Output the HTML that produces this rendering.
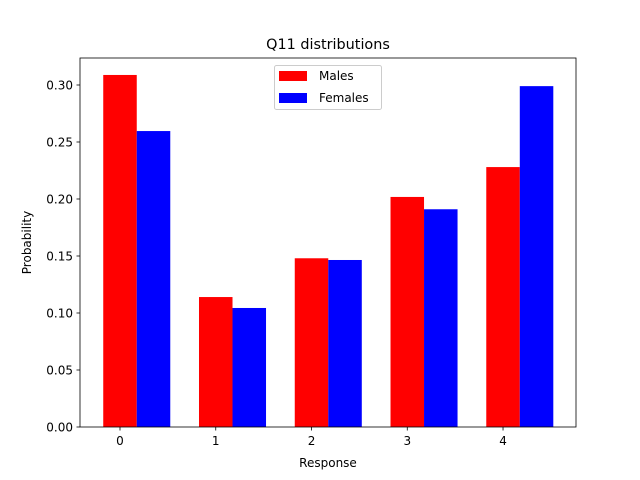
<!DOCTYPE html>
<html><head><meta charset="utf-8"><style>
body{margin:0;background:#fff}
svg{display:block;font-family:"DejaVu Sans","Liberation Sans",sans-serif}
</style></head><body>
<svg id="chart" width="640" height="480" viewBox="0 0 640 480">
<rect width="640" height="480" fill="#fff"/>
<text x="328" y="49" font-size="14.4" text-anchor="middle">Q11 distributions</text>
<g id="bars"></g>
<g id="axes"></g>
<rect x="80" y="58" width="496" height="369" fill="none" stroke="#000" stroke-width="0.8"/>
<text x="328" y="467" font-size="12" text-anchor="middle">Response</text>
<text transform="translate(31,242.5) rotate(-90)" font-size="12" text-anchor="middle">Probability</text>
<g>
<rect x="274.5" y="65.5" width="107" height="44" rx="2" fill="#fff" stroke="#ccc" stroke-width="1"/>
<rect x="279" y="71" width="28" height="10" fill="#ff0000"/>
<text x="319" y="80" font-size="12">Males</text>
<rect x="279" y="93" width="28" height="10" fill="#0000ff"/>
<text x="319" y="102" font-size="12">Females</text>
</g>
</svg>
<script>
const categories = [0, 1, 2, 3, 4];
const males = [0.3088, 0.114, 0.148, 0.2018, 0.228];
const females = [0.2596, 0.1044, 0.1465, 0.191, 0.299];
const yTicks = [0.00, 0.05, 0.10, 0.15, 0.20, 0.25, 0.30];
const yTickLabels = ["0.00","0.05","0.10","0.15","0.20","0.25","0.30"];

const NS = "http://www.w3.org/2000/svg";
const xMin = -0.4177, xMax = 4.762, yMin = 0, yMax = 0.32368;
function xs(v){ return 80 + (v - xMin) / (xMax - xMin) * 496; }
function ys(v){ return 427 - (v - yMin) / (yMax - yMin) * 369; }
const w = 0.35;
const bars = document.getElementById('bars');
const axes = document.getElementById('axes');
function mk(tag, attrs){ const e = document.createElementNS(NS, tag); for (const k in attrs) e.setAttribute(k, attrs[k]); return e; }

categories.forEach((c, i) => {
  const m = mk('rect', {x: xs(c - w/2), y: ys(males[i]), width: xs(c + w/2) - xs(c - w/2), height: ys(0) - ys(males[i]), fill: '#ff0000'});
  
  
  bars.appendChild(m);
  const f = mk('rect', {x: xs(c + w/2), y: ys(females[i]), width: xs(c + 1.5*w) - xs(c + w/2), height: ys(0) - ys(females[i]), fill: '#0000ff'});
  
  
  bars.appendChild(f);
  const t = mk('line', {x1: xs(c), x2: xs(c), y1: 427, y2: 430.5, stroke: '#000', 'stroke-width': 0.8});
  
  
  axes.appendChild(t);
  const l = mk('text', {x: xs(c), y: 445, 'font-size': 12, 'text-anchor': 'middle'});
  l.textContent = String(c);
  
  
  axes.appendChild(l);
});
yTicks.forEach((v, i) => {
  const t = mk('line', {x1: 76.5, x2: 80, y1: ys(v), y2: ys(v), stroke: '#000', 'stroke-width': 0.8});
  
  
  axes.appendChild(t);
  const l = mk('text', {x: 73, y: ys(v) + 4.5, 'font-size': 12, 'text-anchor': 'end'});
  l.textContent = yTickLabels[i];
  
  
  axes.appendChild(l);
});
</script>
</body></html>
